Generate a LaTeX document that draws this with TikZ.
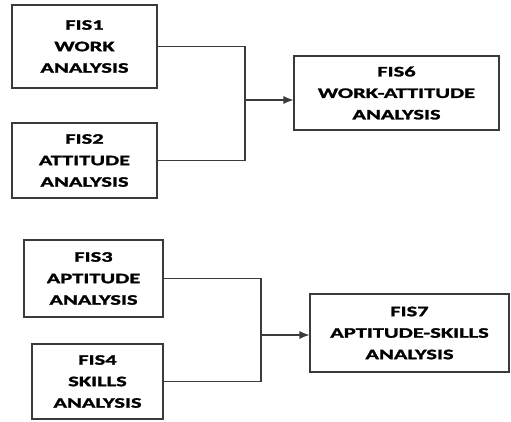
\documentclass[tikz,border=0pt]{standalone}
\usepackage{fontspec}
\setmainfont[FakeStretch=1.55, BoldFeatures={FakeBold=1.6}]{Carlito}
\usepackage{xcolor}
\usetikzlibrary{arrows.meta}
\definecolor{linegray}{HTML}{3A3A3A}

\begin{document}
\begin{tikzpicture}[x=1pt, y=-1pt]
	\useasboundingbox (0,0) rectangle (511,421);

	\begin{scope}[
		fis/.style={align=center, draw=linegray, fill=white, line width=1.1pt, inner sep=0pt,
			font=\bfseries\fontsize{14.5}{21.5}\selectfont}]
		\node[fis, minimum width=145pt, minimum height=83pt] (F1) at (84.5, 46.5) {FIS1\\WORK\\ANALYSIS};
		\node[fis, minimum width=145pt, minimum height=75pt] (F2) at (84.5, 160.5) {FIS2\\ATTITUDE\\ANALYSIS};
		\node[fis, minimum width=205pt, minimum height=74pt] (F6) at (396.5, 93) {FIS6\\WORK-ATTITUDE\\ANALYSIS};
		\node[fis, minimum width=139pt, minimum height=77pt] (F3) at (93.5, 278.5) {FIS3\\APTITUDE\\ANALYSIS};
		\node[fis, minimum width=131pt, minimum height=75pt] (F4) at (97.5, 381.5) {FIS4\\SKILLS\\ANALYSIS};
		\node[fis, minimum width=199pt, minimum height=78pt] (F7) at (409.5, 333) {FIS7\\APTITUDE-SKILLS\\ANALYSIS};
	\end{scope}

	\coordinate (J1) at (245, 100);
	\coordinate (J2) at (261, 335);

	\draw[linegray, line width=1.1pt] (F1.east) -| (J1) |- (F2.east);
	\draw[linegray, line width=1.1pt, -{Latex[length=10pt, width=8pt]}] (J1) -- (J1 -| F6.west);

	\draw[linegray, line width=1.1pt] (F3.east) -| (J2) |- (F4.east);
	\draw[linegray, line width=1.1pt, -{Latex[length=10pt, width=8pt]}] (J2) -- (J2 -| F7.west);
\end{tikzpicture}
\end{document}
